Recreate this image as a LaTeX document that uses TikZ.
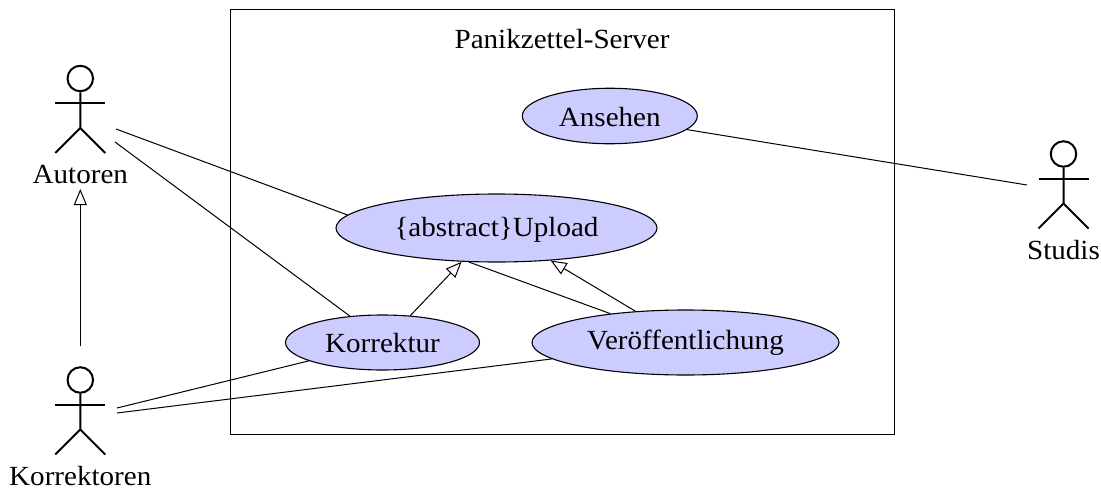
\documentclass[tikz,border=0pt]{standalone}
\usepackage{fontspec}
\setmainfont[FakeStretch=1.05]{Liberation Serif}
\usetikzlibrary{shapes.geometric,arrows.meta}
\definecolor{usecase}{RGB}{204,204,255}
\tikzset{
  x=1pt,y=-1pt,
  thinline/.style={line width=1pt},
  usecasenode/.style={ellipse,draw,fill=usecase,line width=1.1pt,inner sep=0pt,text depth=7pt,font=\fontsize{27.7}{33}\selectfont},
  labeltext/.style={anchor=base,inner sep=0pt,font=\fontsize{27.7}{33}\selectfont},
  actorline/.style={line width=2pt},
  actorhead/.style={circle,draw,line width=2pt,minimum size=25.5pt,inner sep=0pt},
  inherit/.style={line width=1pt,-{Triangle[open,length=16pt,width=13pt,fill=white]}},
}
\newcommand{\umlactor}[3]{%
  \node[actorhead] (#3) at (#1,#2) {};
  \draw[actorline] (#3.south) -- (#1,#2+49.5) -- (#1-25,#2+74.5);
  \draw[actorline] (#1,#2+49.5) -- (#1+25,#2+74.5);
  \draw[actorline] (#1-25,#2+24.5) -- (#1+25,#2+24.5);
}
\begin{document}
\begin{tikzpicture}
\path[use as bounding box] (0,0) rectangle (1101,490);
\node[draw,thinline,anchor=north west,inner sep=0pt,outer sep=0pt,minimum width=663.5pt,minimum height=425pt] (server) at (230.5,9) {};
\node[labeltext] (title) at (562,48) {Panikzettel-Server};
\umlactor{80.3}{78.5}{autoren}
\umlactor{80.3}{380}{korrektoren}
\umlactor{1063.5}{154}{studis}
\node[labeltext] (lautoren) at (80.3,183) {Autoren};
\node[labeltext] (lkorrektoren) at (80.3,485) {Korrektoren};
\node[labeltext] (lstudis) at (1063.5,259) {Studis};
\node[usecasenode,minimum width=175pt,minimum height=55.5pt,text height=27pt] (ansehen) at (609.8,116) {Ansehen};
\node[usecasenode,minimum width=321pt,minimum height=68pt,text height=23pt] (upload) at (496.5,228) {\{abstract\}Upload};
\node[usecasenode,minimum width=194pt,minimum height=55pt,text height=26pt] (korrektur) at (382.5,342.5) {Korrektur};
\node[usecasenode,minimum width=307pt,minimum height=65pt,text height=20pt] (veroeff) at (685.5,342.5) {Veröffentlichung};
\coordinate (a1) at (116,129);
\coordinate (a2) at (115,142);
\coordinate (a3) at (80.3,189);
\coordinate (k1) at (117,408);
\coordinate (k2) at (117,413);
\coordinate (k3) at (80.3,346);
\coordinate (s1) at (1027,185);
\draw[thinline] (a1) -- (upload.175);
\draw[thinline] (a2) -- (korrektur.141.4);
\draw[thinline] (k1) -- (korrektur.194.3);
\draw[thinline] (k2) -- (veroeff.187.5);
\draw[thinline] (ansehen.350.7) -- (s1);
\draw[thinline] (upload.231.7) -- (veroeff.159.5);
\draw[inherit] (korrektur.44) -- (upload.224.8);
\draw[inherit] (veroeff.148.5) -- (upload.329);
\draw[inherit] (k3) -- (a3);
\end{tikzpicture}
\end{document}
